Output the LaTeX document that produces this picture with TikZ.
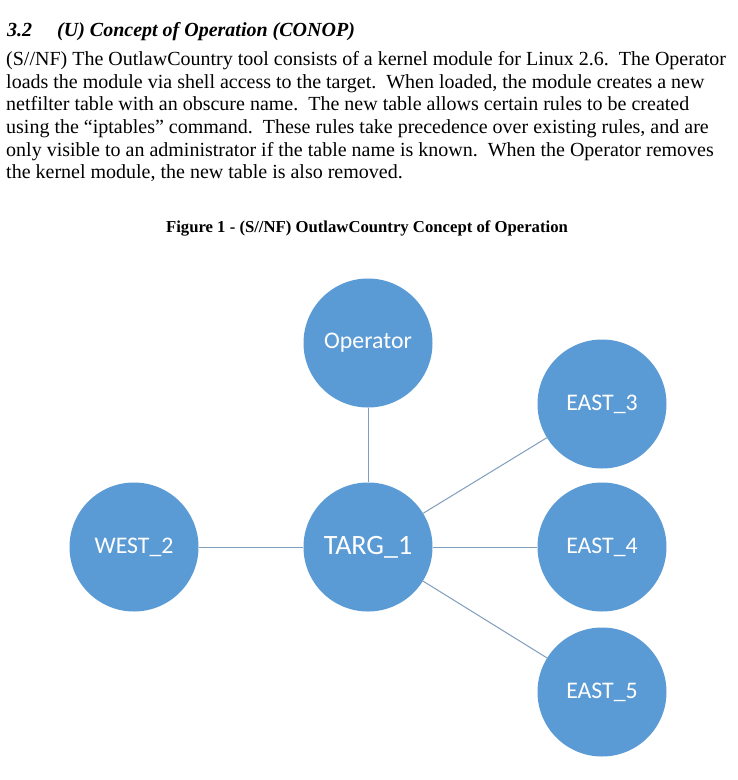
\documentclass[tikz,border=0pt]{standalone}
\usepackage{fontspec}
\setmainfont{Liberation Serif}
\newfontfamily\circfont{Carlito}
\definecolor{nodeblue}{RGB}{91,155,213}
\definecolor{edgeblue}{RGB}{128,158,188}
\begin{document}
\begin{tikzpicture}[x=1pt,y=-1pt,
  bubble/.style={circle,fill=nodeblue,draw=none,minimum size=129pt,inner sep=0pt,
    text=white,font=\circfont\fontsize{23.8}{28}\selectfont},
  link/.style={draw=edgeblue,line width=1pt},
  bodyline/.style={anchor=base west,inner sep=0pt,font=\fontsize{20}{23}\selectfont}]
\useasboundingbox[fill=white] (0,0) rectangle (738,780);
\node[anchor=base west,inner sep=0pt,font=\fontsize{20}{23}\selectfont\bfseries\itshape] (head) at (7,36) {3.2\hspace{25pt}(U) Concept of Operation (CONOP)};
\node[bodyline] (l1) at (6,65) {(S//NF) The OutlawCountry tool consists of a kernel module for Linux 2.6.\ \ The Operator};
\node[bodyline] (l2) at (6,88) {loads the module via shell access to the target.\ \ When loaded, the module creates a new};
\node[bodyline] (l3) at (6,110) {netfilter table with an obscure name.\ \ The new table allows certain rules to be created};
\node[bodyline] (l4) at (6,133) {using the “iptables” command.\ \ These rules take precedence over existing rules, and are};
\node[bodyline] (l5) at (6,156) {only visible to an administrator if the table name is known.\ \ When the Operator removes};
\node[bodyline] (l6) at (6,178) {the kernel module, the new table is also removed.};
\node[anchor=base,inner sep=0pt,font=\fontsize{16.7}{19}\selectfont\bfseries] (cap) at (367,232) {Figure 1 - (S//NF) OutlawCountry Concept of Operation};
\node[bubble] (op) at (368,343) {Operator};
\node[bubble,font=\circfont\fontsize{28}{32}\selectfont] (targ) at (368,547) {TARG\_1};
\node[bubble] (west) at (134,547) {WEST\_2};
\node[bubble] (e3) at (602,404) {EAST\_3};
\node[bubble] (e4) at (602,547) {EAST\_4};
\node[bubble] (e5) at (602,692) {EAST\_5};
\draw[link] (op) -- (targ);
\draw[link] (targ) -- (west);
\draw[link] (targ) -- (e3);
\draw[link] (targ) -- (e4);
\draw[link] (targ) -- (e5);
\end{tikzpicture}
\end{document}
